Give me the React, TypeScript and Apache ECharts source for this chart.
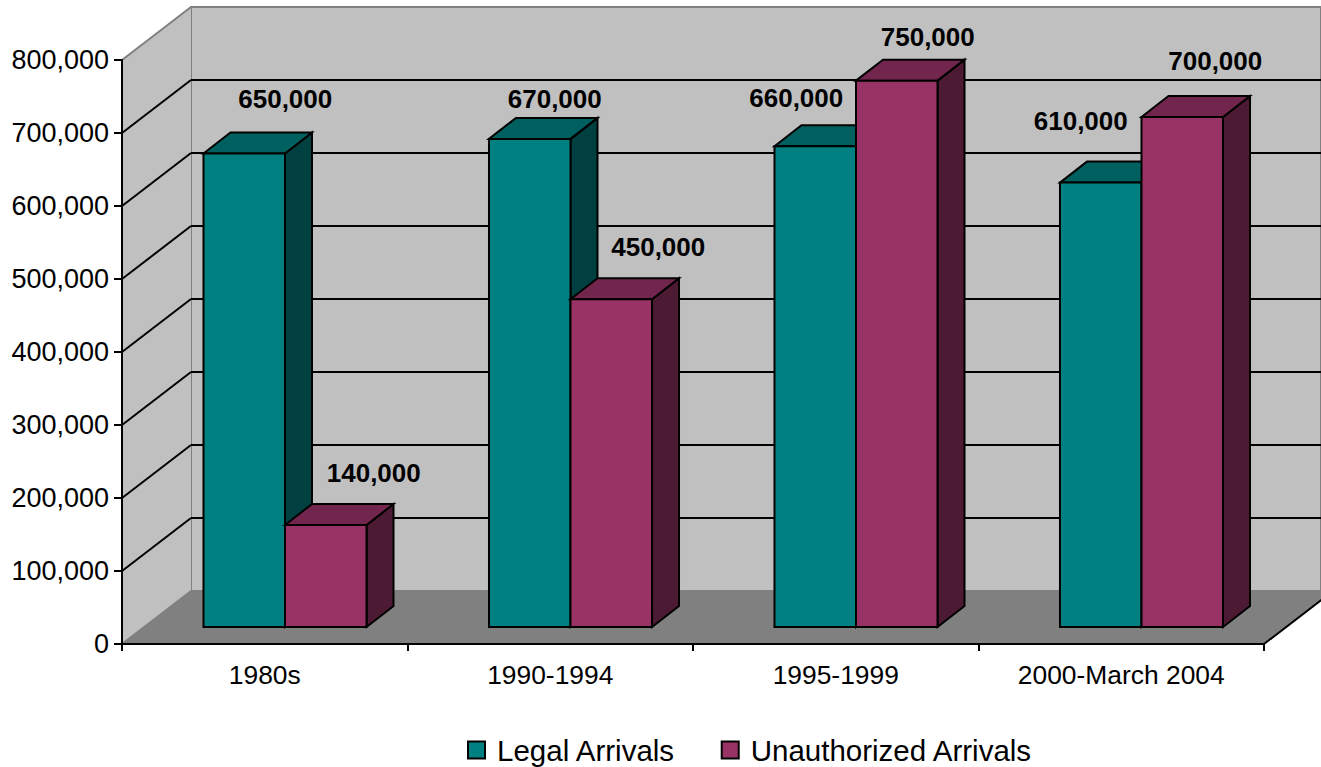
import React, { useEffect, useRef } from "react";
import * as echarts from "echarts";

const categories = ["1980s", "1990-1994", "1995-1999", "2000-March 2004"];
const legalArrivals = [650000, 670000, 660000, 610000];
const unauthorizedArrivals = [140000, 450000, 750000, 700000];
const wallTicks = [0, 100000, 200000, 300000, 400000, 500000, 600000, 700000, 800000];

// label offsets from the front face's top centre
const legalLabelOffsets = [[41, -54], [25, -40], [-19, -48], [-20, -62]];
const unauthorizedLabelOffsets = [[48, -52], [47, -52], [31, -44], [33, -56]];

const FONT = '"Liberation Sans", Arial, sans-serif';
const WALL_DX = 69;
const WALL_DY = -53;
const BAR_DX = 27;
const BAR_DY = -21;
const fmt = (v: number) => v.toLocaleString("en-US");

function barRenderer(side: number, colors: string[], offsets: number[][]) {
  return (params: any, api: any) => {
    const cat = api.value(0);
    const val = api.value(1);
    const top = api.coord([cat, val]);
    const base = api.coord([cat, 0]);
    const w = api.size([1, 0])[0] * 0.2855;
    const x0 = side < 0 ? top[0] - w : top[0];
    const x1 = x0 + w;
    const yT = top[1];
    const yB = base[1];
    const stroke = { stroke: "#000", lineWidth: 2, lineJoin: "miter" };
    const off = offsets[params.dataIndex];
    return {
      type: "group",
      children: [
        {
          type: "polygon",
          shape: { points: [[x1, yT], [x1 + BAR_DX, yT + BAR_DY], [x1 + BAR_DX, yB + BAR_DY], [x1, yB]] },
          style: { fill: colors[2], ...stroke },
        },
        {
          type: "polygon",
          shape: { points: [[x0, yT], [x0 + BAR_DX, yT + BAR_DY], [x1 + BAR_DX, yT + BAR_DY], [x1, yT]] },
          style: { fill: colors[1], ...stroke },
        },
        {
          type: "polygon",
          shape: { points: [[x0, yT], [x1, yT], [x1, yB], [x0, yB]] },
          style: { fill: colors[0], ...stroke },
        },
        {
          type: "text",
          style: {
            text: fmt(val),
            x: (x0 + x1) / 2 + off[0],
            y: yT + off[1],
            fill: "#000",
            fontFamily: FONT,
            fontSize: 26,
            fontWeight: "bold",
            align: "center",
            verticalAlign: "middle",
          },
        },
      ],
    };
  };
}

function wallRenderer(params: any, api: any) {
  const v = api.value(1);
  const cs = params.coordSys;
  const x = cs.x;
  const y = api.coord([0, v])[1];
  if (v === 0) {
    const topY = cs.y;
    const right = x + cs.width;
    return {
      type: "group",
      children: [
        {
          type: "polygon",
          shape: { points: [[x, topY], [x + WALL_DX, topY + WALL_DY], [x + WALL_DX, y + WALL_DY], [x, y]] },
          style: { fill: "#C0C0C0" },
        },
        {
          type: "polygon",
          shape: { points: [[x, y], [x + WALL_DX, y + WALL_DY], [right + WALL_DX, y + WALL_DY], [right, y]] },
          style: { fill: "#808080" },
        },
        {
          type: "line",
          shape: { x1: x, y1: y, x2: x + WALL_DX, y2: y + WALL_DY },
          style: { stroke: "#808080", lineWidth: 2 },
        },
        {
          type: "line",
          shape: { x1: right, y1: y, x2: right + WALL_DX, y2: y + WALL_DY },
          style: { stroke: "#000", lineWidth: 2 },
        },
      ],
    };
  }
  return {
    type: "line",
    shape: { x1: x, y1: y, x2: x + WALL_DX, y2: y + WALL_DY },
    style: { stroke: v === 800000 ? "#808080" : "#000", lineWidth: 2 },
  };
}

export default function App() {
  const ref = useRef<HTMLDivElement>(null);
  useEffect(() => {
    const chart = echarts.init(ref.current!, undefined, { renderer: "svg" });
    const hiddenCat = { type: "category", data: categories, show: false };
    const hiddenVal = { type: "value", min: 0, max: 800000, interval: 100000, show: false };
    chart.setOption({
      animation: false,
      backgroundColor: "#fff",
      textStyle: { fontFamily: FONT },
      legend: {
        left: 462,
        top: 730,
        data: ["Legal Arrivals", "Unauthorized Arrivals"],
        icon: "rect",
        itemWidth: 17,
        itemHeight: 17,
        itemGap: 45,
        selectedMode: false,
        itemStyle: { borderColor: "#000", borderWidth: 2 },
        textStyle: { fontFamily: FONT, fontSize: 29.5, color: "#000", padding: [0, 0, 0, 7] },
      },
      grid: [
        { left: 122, top: 60, width: 1142, height: 584 },
        {
          left: 122 + WALL_DX,
          top: 60 + WALL_DY,
          width: 1142,
          height: 584,
          show: true,
          backgroundColor: "#C0C0C0",
          borderColor: "#808080",
          borderWidth: 2,
        },
        { left: 142.25, top: 44.2, width: 1142, height: 582.8 },
      ],
      xAxis: [
        {
          gridIndex: 0,
          type: "category",
          data: categories,
          z: 5,
          axisLine: { show: true, lineStyle: { color: "#000", width: 2 } },
          axisTick: { show: true, alignWithLabel: false, length: 7, lineStyle: { color: "#000", width: 2 } },
          axisLabel: { fontFamily: FONT, fontSize: 26.4, color: "#000", margin: 18, interval: 0 },
        },
        { gridIndex: 1, ...hiddenCat },
        { gridIndex: 2, ...hiddenCat },
      ],
      yAxis: [
        {
          gridIndex: 0,
          type: "value",
          min: 0,
          max: 800000,
          interval: 100000,
          z: 5,
          axisLine: { show: true, lineStyle: { color: "#000", width: 2 } },
          axisTick: { show: true, length: 8, lineStyle: { color: "#000", width: 2 } },
          axisLabel: { fontFamily: FONT, fontSize: 27, color: "#000", margin: 13, formatter: (v: number) => fmt(v) },
          splitLine: { show: false },
        },
        {
          gridIndex: 1,
          type: "value",
          min: 0,
          max: 800000,
          interval: 100000,
          axisLine: { show: false },
          axisTick: { show: false },
          axisLabel: { show: false },
          splitLine: { show: true, showMinLine: false, showMaxLine: false, lineStyle: { color: "#000", width: 2 } },
        },
        { gridIndex: 2, ...hiddenVal },
      ],
      series: [
        {
          type: "custom",
          name: "walls",
          xAxisIndex: 0,
          yAxisIndex: 0,
          z: 1,
          silent: true,
          clip: false,
          data: wallTicks.map((v) => [0, v]),
          renderItem: wallRenderer,
        },
        {
          type: "custom",
          name: "Legal Arrivals",
          xAxisIndex: 2,
          yAxisIndex: 2,
          z: 3,
          silent: true,
          itemStyle: { color: "#008080" },
          data: legalArrivals.map((v, i) => [i, v]),
          renderItem: barRenderer(-1, ["#008080", "#006060", "#004040"], legalLabelOffsets),
        },
        {
          type: "custom",
          name: "Unauthorized Arrivals",
          xAxisIndex: 2,
          yAxisIndex: 2,
          z: 4,
          silent: true,
          itemStyle: { color: "#993366" },
          data: unauthorizedArrivals.map((v, i) => [i, v]),
          renderItem: barRenderer(1, ["#993366", "#73264D", "#4D1A33"], unauthorizedLabelOffsets),
        },
      ],
    });
    return () => chart.dispose();
  }, []);
  return <div ref={ref} style={{ position: "absolute", left: 0, top: 0, width: 1321, height: 767 }} />;
}
